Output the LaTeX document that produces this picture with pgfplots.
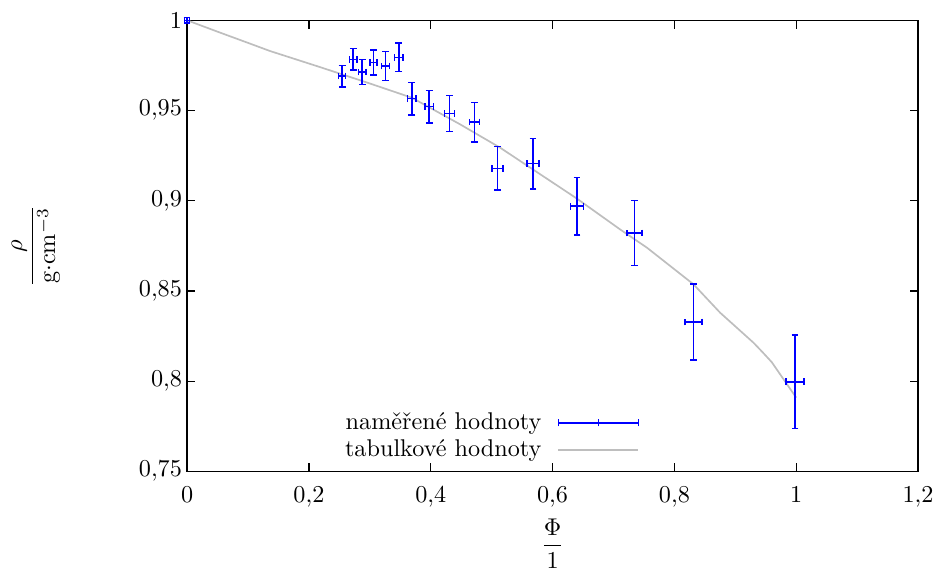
\documentclass[border=0pt]{standalone}
\usepackage{amsmath}
\usepackage{pgfplots}
\pgfplotsset{compat=1.18}
\usepackage{pgfplotstable}

\definecolor{tabgray}{RGB}{190,190,190}

% x  y  ex  ey
\pgfplotstableread{
x      y      ex     ey
0.000  1.000  0.004  0.0015
0.2545 0.9691 0.0055 0.006
0.2726 0.9784 0.006  0.006
0.2874 0.9713 0.006  0.007
0.306  0.9766 0.006  0.007
0.3257 0.9747 0.0065 0.008
0.3476 0.9795 0.007  0.008
0.369  0.9566 0.007  0.009
0.3974 0.9522 0.007  0.009
0.4307 0.9484 0.008  0.010
0.4718 0.9436 0.008  0.011
0.5098 0.918  0.009  0.012
0.5677 0.9206 0.0098 0.014
0.640  0.897  0.011  0.016
0.7345 0.8821 0.012  0.018
0.8314 0.8328 0.014  0.021
0.998  0.7997 0.015  0.026
}\measured

\pgfplotstableread{
x      y
0.000  1.000
0.05   0.9937
0.1    0.9875
0.136  0.9830
0.218  0.9741
0.30   0.9650
0.369  0.9571
0.448  0.9424
0.514  0.9294
0.640  0.9012
0.711  0.8841
0.755  0.8740
0.8314 0.8537
0.875  0.8380
0.93   0.8213
0.945  0.8160
0.96   0.8105
1.000  0.7909
}\tabulated

\begin{document}
\begin{tikzpicture}
\begin{axis}[
  scale only axis,
  width=302pt, height=186.4pt,
  xmin=0, xmax=1.2, ymin=0.75, ymax=1,
  xtick={0,0.2,0.4,0.6,0.8,1,1.2},
  ytick={0.75,0.8,0.85,0.9,0.95,1},
  /pgf/number format/use comma,
  tick align=inside,
  major tick length=3.4pt,
  axis line style={line width=0.6pt},
  tick style={line width=0.5pt,black},
  xticklabel style={yshift=-2.9pt},
  yticklabel style={xshift=1.4pt},
  clip=false,
  xlabel={$\dfrac{\Phi}{1}$},
  ylabel={$\dfrac{\rho}{\mathrm{g{\cdot}cm^{-3}}}$},
  xlabel style={at={(axis description cs:0.5,-0.160)},anchor=center,inner sep=0pt},
  ylabel style={at={(axis description cs:-0.207,0.5)},anchor=center,rotate=0,inner sep=0pt},
  legend plot pos=right,
  legend cell align=right,
  legend style={at={(axis description cs:0.629,0.003)},anchor=south east,
    draw=none,fill=none,row sep=-1.4pt,
    nodes={inner sep=2pt}},
]
\addlegendimage{legend image code/.code={
  \path[draw=none,fill=none] (0pt,-1.4pt) rectangle (38pt,1.4pt);
  \draw[blue,line width=0.6pt] (5pt,0pt) -- (38pt,0pt);
  \draw[blue,line width=0.6pt] (5pt,-1.4pt) -- (5pt,1.4pt);
  \draw[blue,line width=0.6pt] (21.5pt,-1.4pt) -- (21.5pt,1.4pt);
  \draw[blue,line width=0.6pt] (38pt,-1.4pt) -- (38pt,1.4pt);
}}
\addlegendentry{naměřené hodnoty}
\addlegendimage{legend image code/.code={
  \path[draw=none,fill=none] (0pt,-1.4pt) rectangle (38pt,1.4pt);
  \draw[tabgray,line width=0.7pt] (5pt,0pt) -- (38pt,0pt);
}}
\addlegendentry{tabulkové hodnoty}
\addplot[tabgray, line width=0.7pt, no marks, forget plot] table[x=x,y=y] {\tabulated};
\addplot[blue, line width=0.6pt, only marks, mark=+, mark size=1.2pt, forget plot,
  error bars/.cd, x dir=both, y dir=both, x explicit, y explicit,
  error bar style={blue,line width=0.6pt},
  error mark options={rotate=90,mark size=1.4pt,blue,line width=0.6pt},
  ] table[x=x,y=y,x error=ex,y error=ey] {\measured};
\end{axis}
\pgfresetboundingbox
\path[use as bounding box] ([shift={(-77.3pt,-41.6pt)}]current axis.south west)
  rectangle ([shift={(7pt,8.4pt)}]current axis.north east);
\end{tikzpicture}
\end{document}
